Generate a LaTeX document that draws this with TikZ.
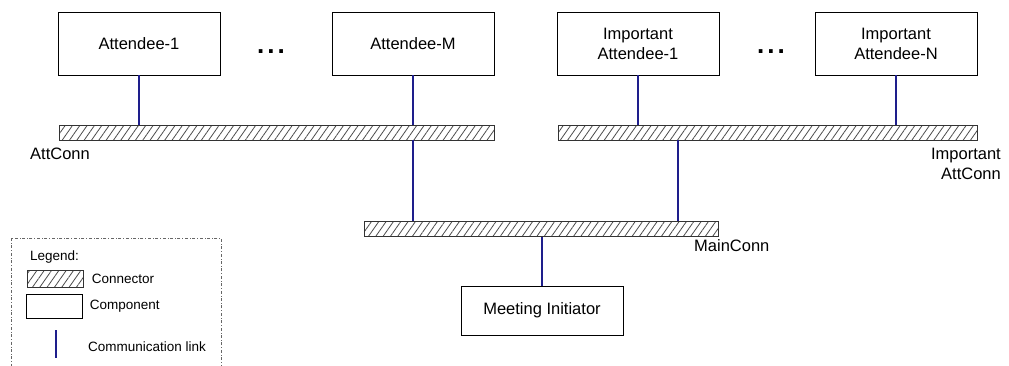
\documentclass[tikz,border=0pt]{standalone}
\usepackage{fontspec}
\setmainfont{Liberation Sans}
\usetikzlibrary{patterns.meta,positioning}
\definecolor{linkblue}{RGB}{30,30,140}
\tikzset{
	comp/.style={draw, line width=0.7pt, minimum width=162pt, minimum height=63pt,
		align=center, font=\fontsize{16.5}{20}\selectfont, inner sep=0pt},
	conn/.style={draw=black!80, line width=0.7pt, minimum height=15pt, inner sep=0pt,
		pattern={Lines[angle=55,distance=6pt,line width=0.8pt]}, pattern color=black!70},
	link/.style={linkblue, line width=1.5pt},
	lbl/.style={font=\fontsize{16.5}{20}\selectfont, inner sep=0pt},
	small/.style={font=\fontsize{13.5}{15}\selectfont, inner sep=0pt, anchor=west},
	dots/.style={font=\fontsize{26}{26}\selectfont\bfseries, inner sep=0pt}
}

\begin{document}
\begin{tikzpicture}[x=1pt, y=-1pt]
\useasboundingbox (0,0) rectangle (1009,365);

% components
\node[comp] (att1) at (139,43.5) {Attendee-1};
\node[comp] (attM) at (413,43.5) {Attendee-M};
\node[comp] (imp1) at (638,43.5) {Important\\Attendee-1};
\node[comp] (impN) at (896,43.5) {Important\\Attendee-N};
\node[comp, minimum height=49pt] (init) at (542,310.5) {Meeting Initiator};
\node[dots] (dotsA) at (271,52) {.\hspace{3pt}.\hspace{3pt}.};
\node[dots] (dotsB) at (771,52) {.\hspace{3pt}.\hspace{3pt}.};

% connectors
\node[conn, minimum width=435pt] (attconn) at (276.5,132.5) {};
\node[conn, minimum width=419pt] (impconn) at (767.5,132.5) {};
\node[conn, minimum width=354pt] (mainconn) at (541,229) {};
\node[lbl, anchor=north west] (attlbl) at (30,148) {AttConn};
\node[lbl, anchor=north east, align=right] (implbl) at (1001,148) {Important\\AttConn};
\node[lbl, anchor=north west] (mainlbl) at (694,239) {MainConn};

% links
\draw[link] (att1.south) -- (att1.south |- attconn.north);
\draw[link] (attM.south) -- (attM.south |- attconn.north);
\draw[link] (imp1.south) -- (imp1.south |- impconn.north);
\draw[link] (impN.south) -- (impN.south |- impconn.north);
\draw[link] (attM.south |- attconn.south) -- (attM.south |- mainconn.north);
\draw[link] ([xshift=40pt]imp1.south |- impconn.south) -- ([xshift=40pt]imp1.south |- mainconn.north);
\draw[link] (init.north) -- (init.north |- mainconn.south);

% legend
\draw[black!60, dash dot, line width=0.6pt] (11,238) rectangle (221,368);
\node[small] (legend) at (30,257) {Legend:};
\node[conn, minimum width=56pt, minimum height=17pt, anchor=west] (legconn) at (27,279) {};
\node[small, right=8pt of legconn] {Connector};
\node[draw, line width=0.7pt, minimum width=56pt, minimum height=24pt, inner sep=0pt, anchor=west] (legcomp) at (26,306) {};
\node[small, right=7pt of legcomp] {Component};
\coordinate (linktop) at (56,330);
\coordinate (linkbot) at (56,358);
\draw[link] (linktop) -- (linkbot);
\node[small] at (88,347) {Communication link};
\end{tikzpicture}
\end{document}
